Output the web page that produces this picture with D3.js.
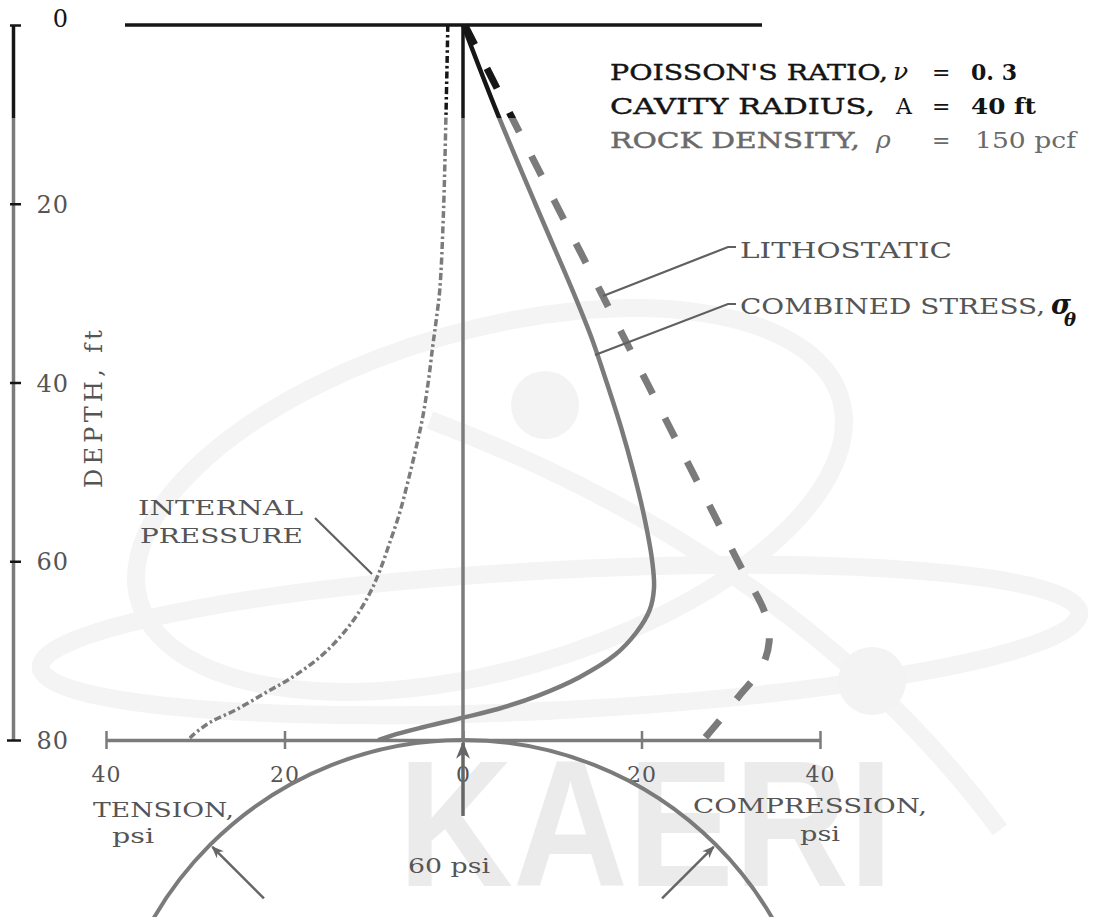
<!DOCTYPE html>
<html>
<head>
<meta charset="utf-8">
<script src="https://d3js.org/d3.v7.min.js"></script>
<style>
  body { margin: 0; background: #fff; }
  svg { display: block; background: #fff; }
  text { font-family: "DejaVu Serif", serif; }
  .lbl { fill: #555; font-size: 21px; }
</style>
</head>
<body>
<svg id="chart" width="1096" height="917"></svg>
<script>
// depth (ft) down the left, stress (psi) across the bottom, tension negative
const depthTicks = [0, 20, 40, 60, 80];
const psiTicks = [-40, -20, 0, 20, 40];
const psiTickText = ["40", "20", "0", "20", "40"];

const lithoDepth = [0, 10, 20, 30, 40, 50, 60, 66, 69, 72, 75, 78, 80];
const lithoPsi   = [0.2, 5.3, 10.4, 15.5, 20.6, 25.7, 30.8, 33.9, 34.3, 33.4, 31.0, 28.6, 26.9];

const combDepth = [0, 10, 20, 30, 35, 40, 45, 50, 55, 60, 63, 65.5, 68, 70.5, 73, 75, 76.5, 77.5, 78.7, 79.5, 80];
const combPsi   = [0, 3.9, 8.1, 12.4, 14.4, 16.1, 17.7, 19.1, 20.3, 21.2, 21.4, 20.9, 19.4, 17.0, 13.0, 8.5, 4.0, 0, -5.0, -8.0, -9.5];

const intDepth = [0, 9.7, 21.3, 29.6, 33, 36, 40, 43.8, 47.5, 51.2, 54.6, 57.9, 61, 63.5, 66.2, 68.5, 70.7, 72.9, 74.7, 76.6, 78, 79.4, 80];
const intPsi   = [-1.7, -1.9, -2.2, -2.6, -3.0, -3.4, -3.9, -4.5, -5.3, -6.2, -7.1, -8.2, -9.3, -10.4, -12.0, -13.8, -16.0, -19.0, -22.1, -25.4, -28.3, -30.2, -30.8];

const cavityRadius = 40;          // ft
const cavityCrown = 80;           // ft
const pressureAngles = [-45, 0, 45];
const pressureArrowLen = 8.5;     // ft

let svg = d3.select("#chart"),
    width = +svg.attr("width"),
    height = +svg.attr("height");

let x = d3.scaleLinear().domain([-40, 40]).range([106, 820]);
let y = d3.scaleLinear().domain([0, 80]).range([25, 740]);

// the scan is darker near the top of the sheet
let defs = svg.append("defs");
let ink = defs.append("linearGradient")
    .attr("id", "ink")
    .attr("gradientUnits", "userSpaceOnUse")
    .attr("x1", 0).attr("y1", 0).attr("x2", 0).attr("y2", height);
[[0, "#161616"], [118 / height, "#161616"], [118 / height, "#7b7b7b"], [1, "#7b7b7b"]]
    .forEach(s => ink.append("stop").attr("offset", s[0]).attr("stop-color", s[1]));

defs.append("marker")
    .attr("id", "head")
    .attr("viewBox", "0 0 10 10")
    .attr("refX", 9).attr("refY", 5)
    .attr("markerWidth", 5).attr("markerHeight", 5)
    .attr("markerUnits", "strokeWidth")
    .attr("orient", "auto")
  .append("path")
    .attr("d", "M0,1 L10,5 L0,9 L3,5 Z")
    .attr("fill", "#666");

// faint watermark
let wm = svg.append("g").attr("fill", "none").attr("stroke", "#f4f4f4").attr("stroke-width", 18);
wm.append("ellipse").attr("cx", 490).attr("cy", 500).attr("rx", 365).attr("ry", 170)
    .attr("transform", "rotate(-16 490 500)");
wm.append("ellipse").attr("cx", 560).attr("cy", 640).attr("rx", 520).attr("ry", 70)
    .attr("transform", "rotate(-3 560 640)");
wm.append("path").attr("d", "M430,420 Q800,560 1000,830");
wm.append("circle").attr("cx", 545).attr("cy", 405).attr("r", 34).attr("fill", "#f3f3f3").attr("stroke", "none");
wm.append("circle").attr("cx", 872).attr("cy", 681).attr("r", 34).attr("fill", "#f3f3f3").attr("stroke", "none");
svg.append("text")
    .attr("x", 398).attr("y", 886)
    .attr("textLength", 495).attr("lengthAdjust", "spacingAndGlyphs")
    .style("font-family", "'Liberation Sans', sans-serif")
    .style("font-weight", "bold").style("font-size", "180px")
    .attr("fill", "#ebebeb")
    .text("KAERI");

// ground surface
svg.append("line")
    .attr("x1", 125).attr("x2", 762)
    .attr("y1", y(0)).attr("y2", y(0))
    .attr("stroke", "#161616").attr("stroke-width", 3.5);

// depth axis
let gy = svg.append("g")
    .attr("transform", "translate(13,0)")
    .call(d3.axisRight(y).tickValues(depthTicks).tickSizeInner(7).tickSizeOuter(0));
gy.select(".domain").attr("stroke", "url(#ink)").attr("stroke-width", 3.5);
gy.selectAll(".tick line")
    .attr("stroke", "url(#ink)").attr("stroke-width", 2.5)
    .attr("x1", d => d === 80 ? -6 : -3).attr("x2", 8);
gy.selectAll(".tick text")
    .attr("x", 56).attr("dy", d => d === 0 ? "0.05em" : "0.36em")
    .attr("text-anchor", "end")
    .style("font-family", "'DejaVu Serif', serif").style("font-size", "24px")
    .style("letter-spacing", "1px")
    .attr("fill", d => d === 0 ? "#141414" : "#555");

svg.append("text")
    .attr("class", "lbl")
    .attr("transform", "translate(102,409) rotate(-90)")
    .attr("text-anchor", "middle")
    .attr("textLength", 158)
    .style("font-size", "24px")
    .text("DEPTH, ft");

// stress axis along the 80 ft line
let gx = svg.append("g")
    .attr("transform", `translate(0,${y(80)})`)
    .call(d3.axisBottom(x).tickValues(psiTicks).tickFormat((d, i) => psiTickText[i]).tickSizeInner(9).tickSizeOuter(0));
gx.select(".domain").attr("stroke", "#7b7b7b").attr("stroke-width", 3.5);
gx.selectAll(".tick line").attr("stroke", "#7b7b7b").attr("stroke-width", 2.5).attr("y1", -9);
gx.selectAll(".tick text")
    .attr("y", 42).attr("dy", 0)
    .style("font-family", "'DejaVu Serif', serif").style("font-size", "22px")
    .style("letter-spacing", "1px")
    .attr("fill", "#555");

// center line
svg.append("line")
    .attr("x1", x(0)).attr("x2", x(0))
    .attr("y1", y(0)).attr("y2", y(80))
    .attr("stroke", "url(#ink)").attr("stroke-width", 3.5);

// cavity and pressure arrows
let cx = x(0), cy = y(cavityCrown + cavityRadius), r = y(cavityRadius) - y(0);
svg.append("circle")
    .attr("cx", cx).attr("cy", cy).attr("r", r)
    .attr("fill", "none").attr("stroke", "#7b7b7b").attr("stroke-width", 4);

let len = y(pressureArrowLen) - y(0);
svg.selectAll(".arrow")
    .data(pressureAngles)
    .enter().append("line")
    .attr("class", "arrow")
    .attr("x1", a => cx + (r - len) * Math.sin(a * Math.PI / 180))
    .attr("y1", a => cy - (r - len) * Math.cos(a * Math.PI / 180))
    .attr("x2", a => cx + (r - 3) * Math.sin(a * Math.PI / 180))
    .attr("y2", a => cy - (r - 3) * Math.cos(a * Math.PI / 180))
    .attr("stroke", "#666").attr("stroke-width", a => a === 0 ? 3.5 : 2.5)
    .attr("marker-end", "url(#head)");

// curves
let curve = (dep, psi) => d3.line()
    .x(i => x(psi[i]))
    .y(i => y(dep[i]))
    .curve(d3.curveCatmullRom.alpha(0.5))(d3.range(dep.length));

svg.append("path")
    .attr("d", curve(intDepth, intPsi))
    .attr("fill", "none").attr("stroke", "url(#ink)")
    .attr("stroke-width", 3.5).attr("stroke-dasharray", "7 3 2.5 3");

svg.append("path")
    .attr("d", curve(combDepth, combPsi))
    .attr("fill", "none").attr("stroke", "url(#ink)")
    .attr("stroke-width", 4.5);

svg.append("path")
    .attr("d", curve(lithoDepth, lithoPsi))
    .attr("fill", "none").attr("stroke", "url(#ink)")
    .attr("stroke-width", 7).attr("stroke-dasharray", "22 27");

// leaders
let leaders = [
    [[603, 296], [728, 247], [736, 247]],
    [[595, 355], [728, 304], [736, 304]],
    [[315, 518], [372, 574]]
];
svg.selectAll(".leader")
    .data(leaders)
    .enter().append("path")
    .attr("class", "leader")
    .attr("d", d3.line())
    .attr("fill", "none").attr("stroke", "#606060").attr("stroke-width", 2.2);

// labels
let label = (txt, x0, y0, w, cls) => svg.append("text")
    .attr("class", cls || "lbl")
    .attr("x", x0).attr("y", y0)
    .attr("textLength", w).attr("lengthAdjust", "spacingAndGlyphs")
    .text(txt);

label("LITHOSTATIC", 740, 258, 212).style("font-size", "22px");
label("COMBINED STRESS,", 740, 314, 305).style("font-size", "22px");
svg.append("text").attr("x", 1051).attr("y", 314)
    .style("font-size", "27px").style("font-style", "italic").style("font-weight", "bold")
    .attr("fill", "#141414").text("σ");
svg.append("text").attr("x", 1064).attr("y", 326)
    .style("font-size", "18px").style("font-style", "italic").style("font-weight", "bold")
    .attr("fill", "#141414").text("θ");

label("INTERNAL", 138, 515, 165);
label("PRESSURE", 140, 543, 163);

label("TENSION,", 93, 817, 141);
label("psi", 112, 843, 42);
label("COMPRESSION,", 693, 813, 234);
label("psi", 800, 841, 40);
label("60 psi", 408, 873, 82);

// parameter block
let params = [
    { name: "POISSON'S RATIO,", w: 278, sym: "ν", sx: 893, val: "0. 3", vw: 46, vx: 971, y: 80, fill: "#141414" },
    { name: "CAVITY RADIUS,", w: 265, sym: "A", sx: 896, val: "40 ft", vw: 65, vx: 971, y: 114, fill: "#141414" },
    { name: "ROCK DENSITY,", w: 250, sym: "ρ", sx: 876, val: "150 pcf", vw: 101, vx: 975, y: 148, fill: "#6a6a6a" }
];
let pg = svg.append("g").style("font-size", "22px");
params.forEach(p => {
    pg.append("text").attr("x", 610).attr("y", p.y).attr("fill", p.fill)
        .attr("stroke", p.fill).attr("stroke-width", 0.4)
        .attr("textLength", p.w).attr("lengthAdjust", "spacingAndGlyphs").text(p.name);
    pg.append("text").attr("x", p.sx).attr("y", p.y).attr("fill", p.fill)
        .style("font-style", p.sym === "A" ? "normal" : "italic")
        .style("font-size", p.sym === "A" ? "22px" : "25px").text(p.sym);
    pg.append("text").attr("x", 932).attr("y", p.y).attr("fill", p.fill).text("=");
    pg.append("text").attr("x", p.vx).attr("y", p.y).attr("fill", p.fill)
        .attr("textLength", p.vw).attr("lengthAdjust", "spacingAndGlyphs")
        .style("font-weight", p.sym === "ρ" ? "normal" : "bold").text(p.val);
});
</script>
</body>
</html>
